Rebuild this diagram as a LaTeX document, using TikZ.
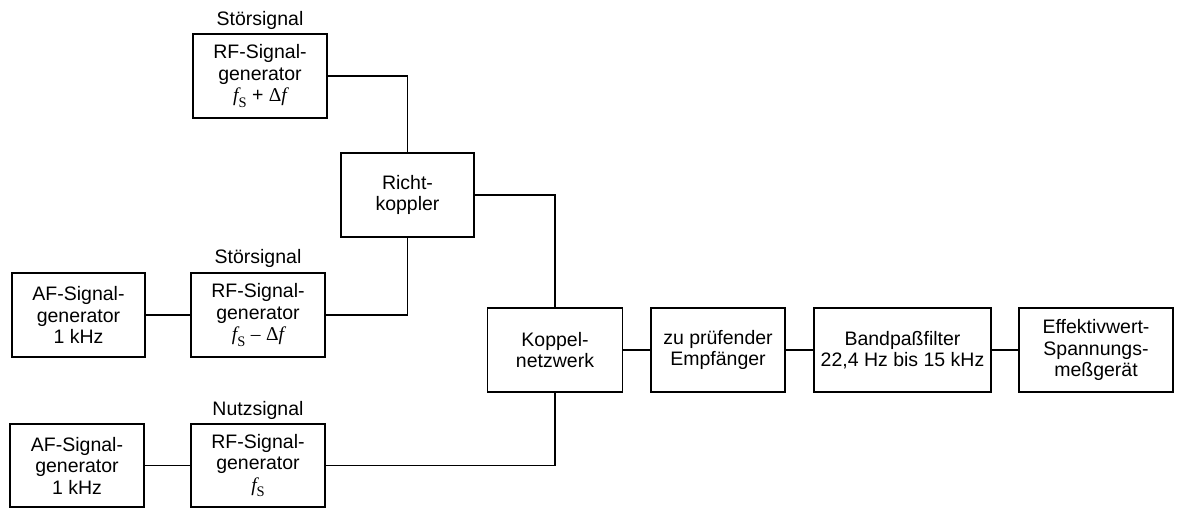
\documentclass[tikz,border=0pt]{standalone}
\usepackage{fontspec}
\setmainfont{Liberation Sans}
\newfontfamily\tms{Liberation Serif}
% f with subscript S, set in a Times-like serif
\newcommand{\fS}{{\tms\itshape f}\raisebox{-0.28em}{\tms\fontsize{14.5}{14.5}\selectfont S}}
\newcommand{\df}{{\tms Δ\itshape f}}
\begin{document}
\begin{tikzpicture}[x=1pt,y=-1pt,
  box/.style={draw,line width=1.1pt,rectangle,minimum width=134pt,minimum height=84pt,
    align=center,inner sep=1pt,font=\fontsize{19.5}{21.5}\selectfont},
  lbl/.style={font=\fontsize{19.5}{21.5}\selectfont,inner sep=0pt},
  wire/.style={line width=1.1pt}]
\useasboundingbox (0,0) rectangle (1177,508);

% interference generators and coupler
\node[box] (rfa) at (260,76) {RF-Signal-\\generator\\\fS{} + \df};
\node[lbl] at (260,20) {Störsignal};
\node[box,minimum width=133pt] (rk) at (407.5,195) {Richt-\\koppler};
\node[box,minimum width=133pt] (afb) at (78.5,315) {AF-Signal-\\generator\\1 kHz};
\node[box] (rfb) at (258,315) {RF-Signal-\\generator\\\fS{} {\tms –} \df};
\node[lbl] at (258,258) {Störsignal};

% wanted signal generators
\node[box,minimum height=83pt] (afc) at (77,465.5) {AF-Signal-\\generator\\1 kHz};
\node[box,minimum height=83pt] (rfc) at (258,465.5) {RF-Signal-\\generator\\\fS};
\node[lbl] at (258,410) {Nutzsignal};

% measurement chain
\node[box,minimum width=135pt] (kn) at (555,350) {Koppel-\\netzwerk};
\node[box] (emp) at (718,350) {zu prüfender\\Empfänger};
\node[box,minimum width=177pt] (bp) at (902.5,350) {Bandpaßfilter\\22,4 Hz bis 15 kHz};
\node[box,minimum width=154pt] (eff) at (1096,350) {Effektivwert-\\Spannungs-\\meßgerät};

% connections
\draw[wire] (rfa.east) -| (rk.north);
\draw[wire] (rfb.east) -| (rk.south);
\draw[wire] (afb.east) -- (rfb.west);
\draw[wire] (rk.east) -| (kn.north);
\draw[wire] (afc.east) -- (rfc.west);
\draw[wire] (rfc.east) -| (kn.south);
\draw[wire] (kn.east) -- (emp.west);
\draw[wire] (emp.east) -- (bp.west);
\draw[wire] (bp.east) -- (eff.west);
\end{tikzpicture}
\end{document}
